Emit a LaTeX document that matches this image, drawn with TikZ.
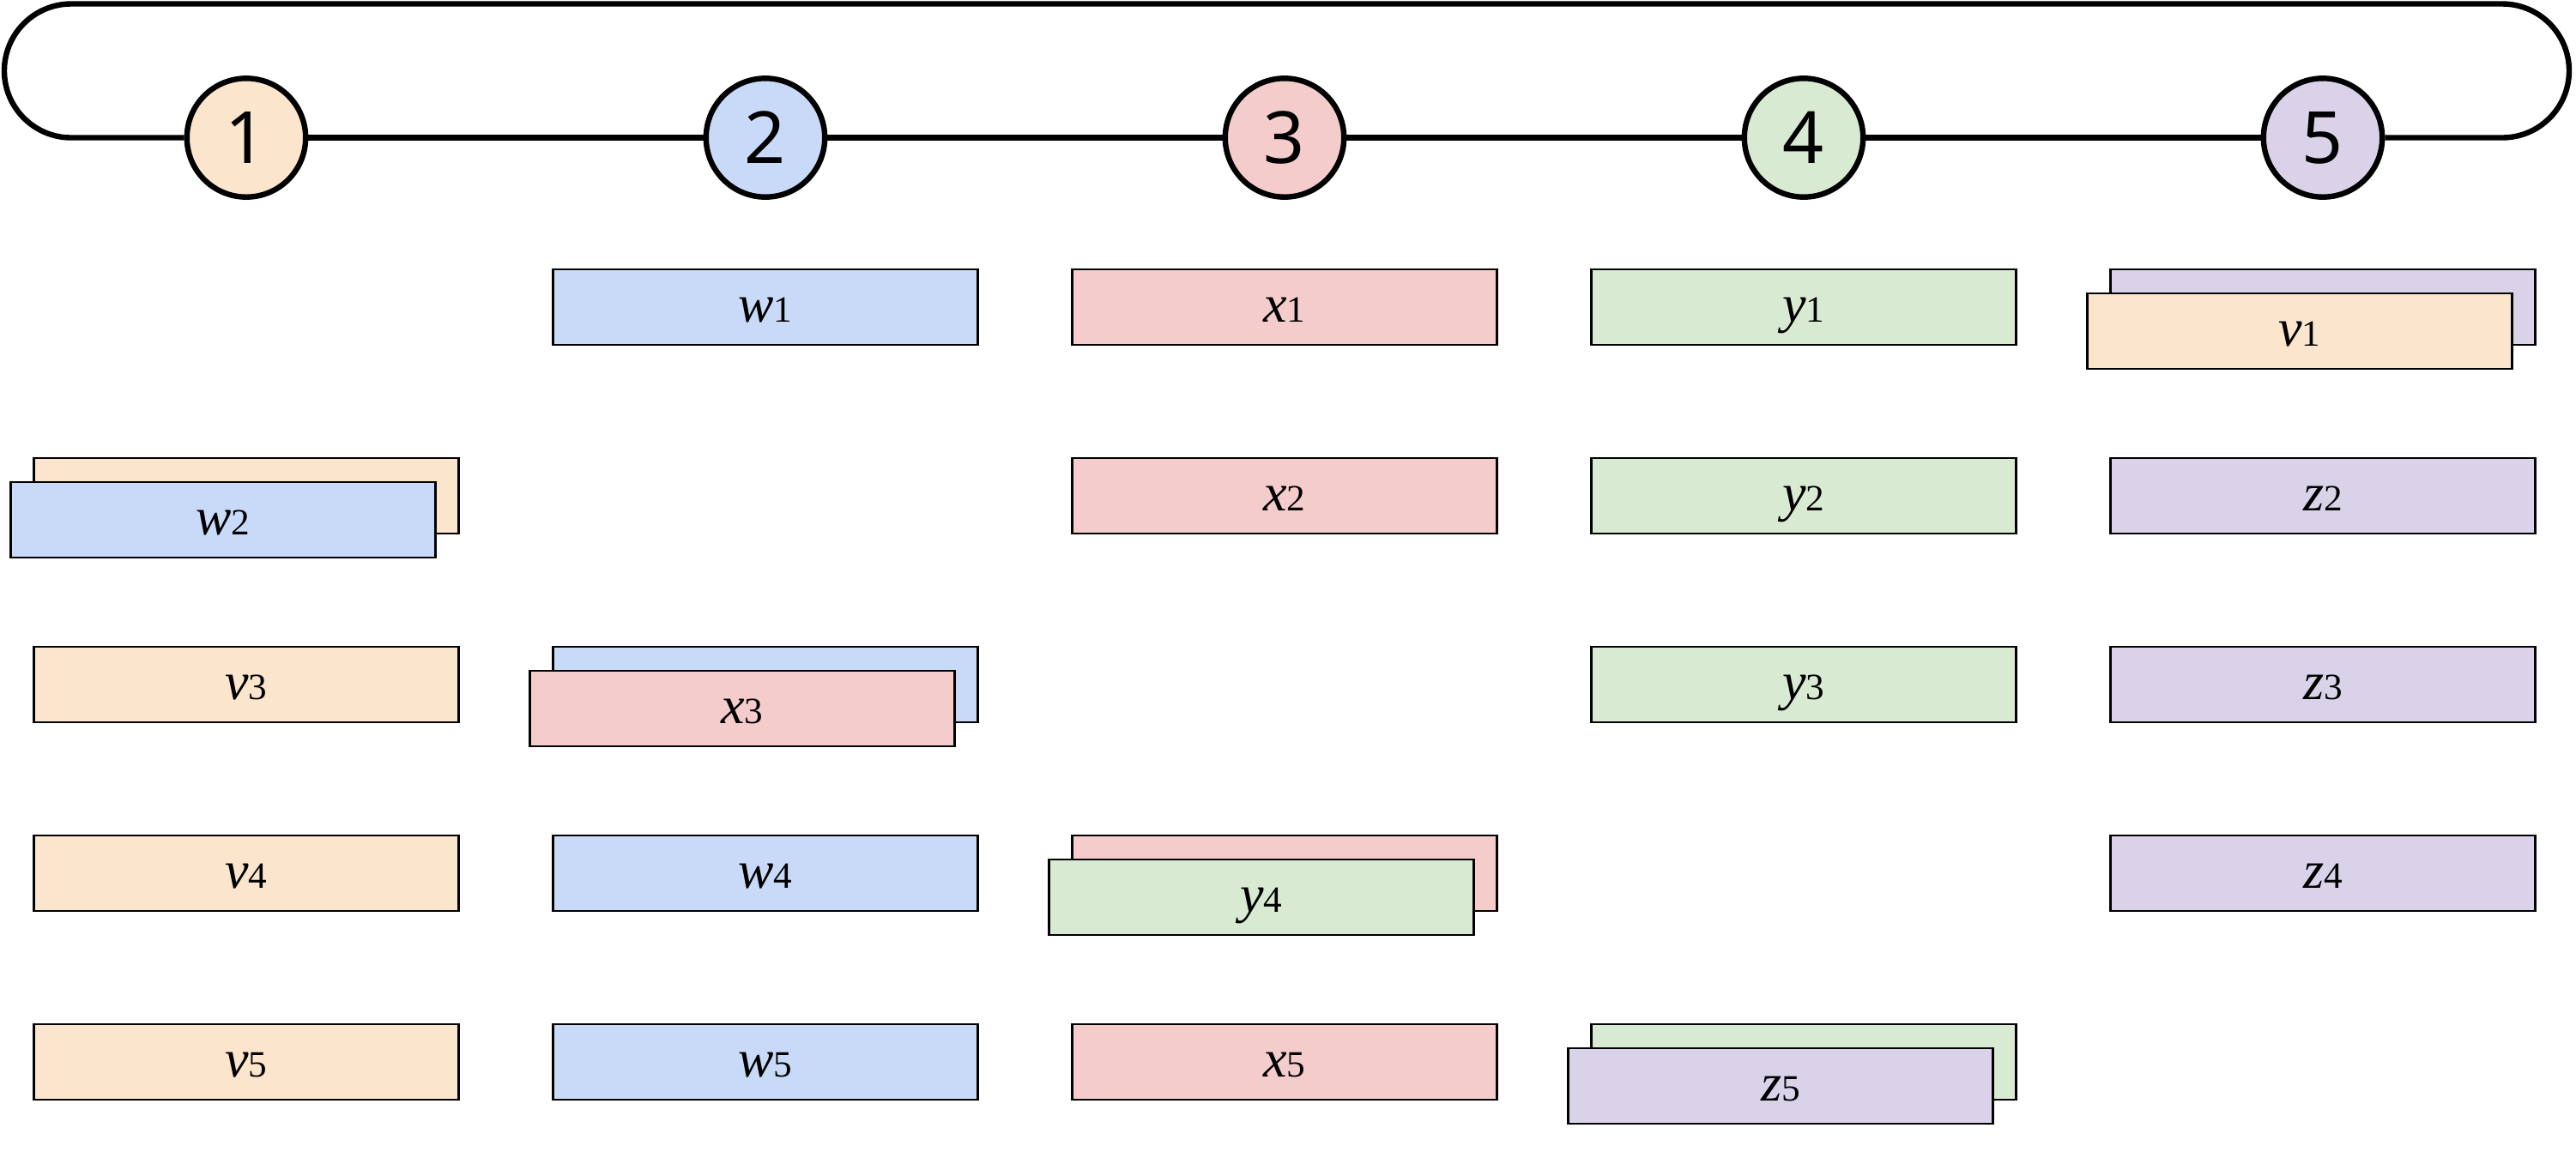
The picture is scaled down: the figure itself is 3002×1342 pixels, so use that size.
\documentclass[tikz,border=0pt]{standalone}
\usepackage{fontspec}
\setmainfont{Liberation Serif}
\newfontfamily\labfont{Liberation Serif}
\newfontfamily\numfont{Noto Sans}
\definecolor{corange}{HTML}{FCE5CD}
\definecolor{cblue}{HTML}{C9DAF8}
\definecolor{cred}{HTML}{F4CCCC}
\definecolor{cgreen}{HTML}{D9EAD3}
\definecolor{cpurple}{HTML}{D9D2E9}
\newcommand\lab[2]{{\labfont\fontsize{15.5}{16}\selectfont\itshape #1}{\labfont\fontsize{10.8}{11}\selectfont\upshape #2}}
\begin{document}
\begin{tikzpicture}[x=0.25pt,y=-0.25pt,
  stage/.style={circle, draw, line width=1.6pt, minimum size=34.6pt, inner sep=0pt,
    font=\numfont\fontsize{21}{21}\selectfont},
  ring/.style={line width=1.6pt},
  card/.style={draw, line width=0.7pt, minimum width=123.8pt, minimum height=22pt, inner sep=0pt,
    text height=8.5pt, text depth=0pt, font=\labfont}]
\useasboundingbox (0,0) rectangle (3002,1342);
% stages
\node[stage, fill=corange] (c1) at (287,160.5) {1};
\node[stage, fill=cblue]   (c2) at (892,160.5) {2};
\node[stage, fill=cred]    (c3) at (1497,160.5) {3};
\node[stage, fill=cgreen]  (c4) at (2102,160.5) {4};
\node[stage, fill=cpurple] (c5) at (2707,160.5) {5};
\coordinate (la) at (83,160.5);
\coordinate (ra) at (2916,160.5);
\draw[ring] (c1.west) -- (la) arc[start angle=90, end angle=270, radius=78] -- (2916,4.5)
  arc[start angle=-90, end angle=90, radius=78] -- (c5.east);
\draw[ring] (c1.east) -- (c2.west);
\draw[ring] (c2.east) -- (c3.west);
\draw[ring] (c3.east) -- (c4.west);
\draw[ring] (c4.east) -- (c5.west);
% row 1
\node[card, fill=cblue]  (w1) at (892,358) {\lab{w}{1}};
\node[card, fill=cred]   (x1) at (1497,358) {\lab{x}{1}};
\node[card, fill=cgreen] (y1) at (2102,358) {\lab{y}{1}};
\node[card, fill=cpurple] (b5) at (2707,358) {};
\node[card, fill=corange] (v1) at (2680,386) {\lab{v}{1}};
% row 2
\node[card, fill=corange] (b1) at (287,578) {};
\node[card, fill=cblue]  (w2) at (260,606) {\lab{w}{2}};
\node[card, fill=cred]   (x2) at (1497,578) {\lab{x}{2}};
\node[card, fill=cgreen] (y2) at (2102,578) {\lab{y}{2}};
\node[card, fill=cpurple] (z2) at (2707,578) {\lab{z}{2}};
% row 3
\node[card, fill=corange] (v3) at (287,798) {\lab{v}{3}};
\node[card, fill=cblue]  (b2) at (892,798) {};
\node[card, fill=cred]   (x3) at (865,826) {\lab{x}{3}};
\node[card, fill=cgreen] (y3) at (2102,798) {\lab{y}{3}};
\node[card, fill=cpurple] (z3) at (2707,798) {\lab{z}{3}};
% row 4
\node[card, fill=corange] (v4) at (287,1018) {\lab{v}{4}};
\node[card, fill=cblue]  (w4) at (892,1018) {\lab{w}{4}};
\node[card, fill=cred]   (b3) at (1497,1018) {};
\node[card, fill=cgreen] (y4) at (1470,1046) {\lab{y}{4}};
\node[card, fill=cpurple] (z4) at (2707,1018) {\lab{z}{4}};
% row 5
\node[card, fill=corange] (v5) at (287,1238) {\lab{v}{5}};
\node[card, fill=cblue]  (w5) at (892,1238) {\lab{w}{5}};
\node[card, fill=cred]   (x5) at (1497,1238) {\lab{x}{5}};
\node[card, fill=cgreen] (b4) at (2102,1238) {};
\node[card, fill=cpurple] (z5) at (2075,1266) {\lab{z}{5}};
\end{tikzpicture}
\end{document}
